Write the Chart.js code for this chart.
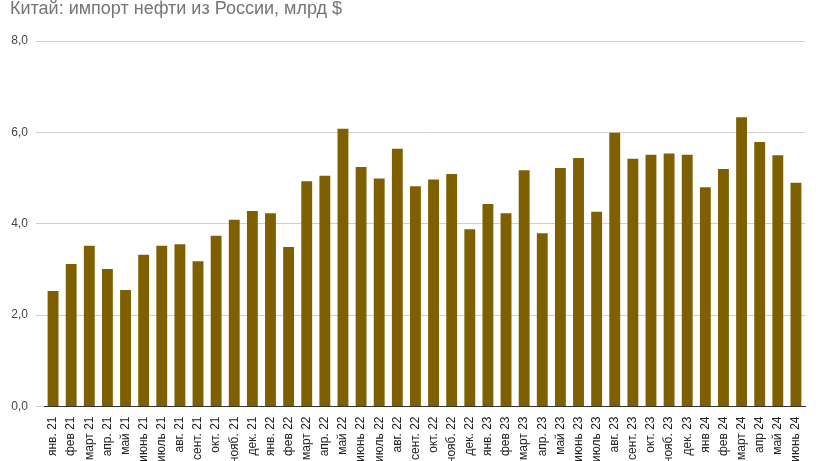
<!DOCTYPE html>
<html><head><meta charset="utf-8">
<script src="https://cdn.jsdelivr.net/npm/chart.js@4"></script>
<style>html,body{margin:0;padding:0;background:#fff;overflow:hidden}#w{width:821px;height:461px;position:relative}</style>
</head><body><div id="w"><canvas id="c"></canvas></div>
<script>
const categories = ["янв. 21","фев 21","март 21","апр. 21","май 21","июнь 21","июль 21","авг. 21","сент. 21","окт. 21","нояб. 21","дек. 21",
"янв. 22","фев 22","март 22","апр. 22","май 22","июнь 22","июль 22","авг. 22","сент. 22","окт. 22","нояб. 22","дек. 22",
"янв. 23","фев 23","март 23","апр. 23","май 23","июнь 23","июль 23","авг. 23","сент. 23","окт. 23","нояб. 23","дек. 23",
"янв 24","фев 24","март 24","апр 24","май 24","июнь 24"];
const values = [2.53,3.12,3.52,3.01,2.55,3.32,3.52,3.55,3.18,3.74,4.09,4.28,
4.23,3.49,4.93,5.05,6.08,5.24,4.99,5.64,4.82,4.97,5.09,3.88,
4.43,4.23,5.17,3.79,5.22,5.44,4.26,5.99,5.42,5.51,5.54,5.51,
4.80,5.20,6.33,5.79,5.50,4.90];
const yTicks = [0,2,4,6,8];
const titleText = "Китай: импорт нефти из России, млрд $";

const titlePlugin = {id:'t', afterDraw(ch){const x=ch.ctx;x.save();x.font='18px Arial, "Liberation Sans"';x.fillStyle='#757575';x.textBaseline='alphabetic';x.fillText(titleText,10,14);x.restore();}};

new Chart(document.getElementById('c'),{
  type:'bar',
  data:{labels:categories,datasets:[{data:values,backgroundColor:'#7f6000',barPercentage:0.6,categoryPercentage:1}]},
  options:{responsive:true,maintainAspectRatio:false,animation:false,
    layout:{padding:{top:41,right:16,left:0,bottom:0}},
    plugins:{legend:{display:false},tooltip:{enabled:false}},
    scales:{
      x:{grid:{display:false},border:{color:'#333',width:1},
        ticks:{autoSkip:false,maxRotation:90,minRotation:90,color:'#222',font:{family:'Arial, "Liberation Sans"',size:12},padding:2},
        afterFit(s){s.height=54.5;}},
      y:{min:0,max:8,afterBuildTicks(s){s.ticks=yTicks.map(v=>({value:v}));},
        grid:{color:'#d0d0d0'},border:{display:false},
        ticks:{color:'#444',font:{family:'Arial, "Liberation Sans"',size:12},padding:8,callback:v=>v.toFixed(1).replace('.',',')},
        afterFit(s){s.width=44;}}
    }},
  plugins:[titlePlugin]
});
</script></body></html>
